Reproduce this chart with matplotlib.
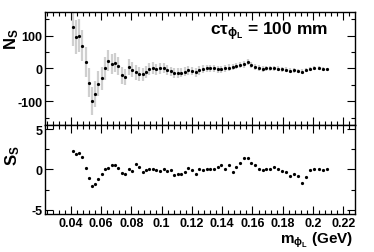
import matplotlib
matplotlib.use("Agg")
import matplotlib.pyplot as plt
from matplotlib.ticker import MultipleLocator

plt.rcParams['font.family'] = ['Liberation Sans', 'DejaVu Sans']
plt.rcParams['font.weight'] = 'bold'
plt.rcParams['axes.unicode_minus'] = False
plt.rcParams['mathtext.fontset'] = 'custom'
plt.rcParams['mathtext.rm'] = 'Liberation Sans:bold'
plt.rcParams['mathtext.it'] = 'Liberation Sans:bold'
plt.rcParams['mathtext.bf'] = 'Liberation Sans:bold'

# mass points (GeV)
mass = [0.0415, 0.0433, 0.0455, 0.0475, 0.0497, 0.0517, 0.0539, 0.0559, 0.0580, 0.0603,
        0.0625, 0.0647, 0.0669, 0.0691, 0.0713, 0.0735, 0.0759, 0.0781, 0.0803, 0.0828,
        0.0850, 0.0874, 0.0896, 0.0918, 0.0942, 0.0964, 0.0988, 0.1015, 0.1037, 0.1059,
        0.1083, 0.1105, 0.1127, 0.1154, 0.1175, 0.1200, 0.1224, 0.1248, 0.1273, 0.1297,
        0.1321, 0.1345, 0.1370, 0.1394, 0.1418, 0.1444, 0.1469, 0.1493, 0.1519, 0.1544,
        0.1568, 0.1592, 0.1614, 0.1643, 0.1667, 0.1691, 0.1715, 0.1740, 0.1766, 0.1793,
        0.1819, 0.1846, 0.1874, 0.1902, 0.1929, 0.1955, 0.1982, 0.2008, 0.2037, 0.2064,
        0.2090]

# signal yield N_S
n_sig = [125, 97, 100, 70, 19, -44, -99, -77, -47, -30,
         0, 24, 13, 18, 8, -20, -26, 5, -4, -12,
         -17, -17, -10, -2, 2, -2, 0, 1, -5, -9,
         -13, -14, -13, -10, -6, -8, -12, -6, -2, 0,
         0, 0, -2, -3, 0, 2, 4, 8, 11, 13,
         20, 12, 5, 1, -1, 0, 0, 1, -1, -3,
         -4, -7, -6, -8, -10, -5, -1, 2, 1, -1,
         -3]

n_err = [55, 52, 50, 48, 46, 44, 42, 40, 38, 36,
         34, 32, 30, 28, 27, 26, 25, 24, 23, 22,
         21, 20, 19, 18, 18, 17, 17, 16, 16, 15,
         15, 15, 14, 14, 14, 13, 13, 13, 12, 12,
         12, 12, 11, 11, 11, 11, 10, 10, 10, 10,
         10, 9, 9, 9, 9, 8, 8, 8, 8, 8,
         8, 7, 7, 7, 7, 7, 7, 6, 6, 6,
         6]

# significance S_S
s_sig = [2.3, 1.9, 2.0, 1.5, 0.15, -1.0, -2.05, -1.8, -1.15, -0.5,
         0.05, 0.2, 0.5, 0.5, 0.15, -0.45, -0.6, 0.05, -0.2, 0.65,
         0.25, -0.25, -0.1, 0.1, 0.05, -0.1, -0.15, 0.1, -0.15, -0.05,
         -0.7, -0.5, -0.5, -0.3, 0.15, -0.1, -0.55, 0.05, -0.05, 0.05,
         0.1, 0.1, 0.3, 0.5, 0.1, 0.6, -0.35, 0.25, 0.85, 1.4,
         1.4, 0.8, 0.55, 0.05, -0.1, 0.1, 0.1, 0.25, 0.1, -0.2,
         -0.3, -0.85, -0.55, -0.8, -1.7, -0.9, -0.1, 0.1, 0.05, -0.05,
         0.0]

fig = plt.figure(figsize=(3.74, 2.53), dpi=100)
ax1 = fig.add_axes([0.1203, 0.502, 0.8289, 0.4466])
ax2 = fig.add_axes([0.1203, 0.1502, 0.8289, 0.3518])

ax1.errorbar(mass, n_sig, yerr=n_err, fmt='o', ms=1.3, color='black',
             ecolor='#cfcfcf', elinewidth=1.6, capsize=0)
ax2.plot(mass, s_sig, 'o', ms=1.3, color='black')

ax1.set_ylim(-172, 172)
ax2.set_ylim(-5.5, 5.5)
for ax in (ax1, ax2):
    ax.set_xlim(0.0228, 0.2278)
    ax.xaxis.set_major_locator(MultipleLocator(0.02))
    ax.xaxis.set_minor_locator(MultipleLocator(0.004))
    ax.tick_params(which='both', direction='in', top=True, right=True,
                   labelsize=9, width=0.8)
    ax.tick_params(which='major', length=6)
    ax.tick_params(which='minor', length=3)
    ax.tick_params(axis='y', pad=2)
    ax.tick_params(axis='x', pad=2)
    for sp in ax.spines.values():
        sp.set_linewidth(1.0)

ax1.yaxis.set_major_locator(MultipleLocator(100))
ax1.yaxis.set_minor_locator(MultipleLocator(50))
ax1.tick_params(labelbottom=False)
ax2.yaxis.set_major_locator(MultipleLocator(5))
ax2.yaxis.set_minor_locator(MultipleLocator(2.5))
ax2.set_xticks([0.04, 0.06, 0.08, 0.1, 0.12, 0.14, 0.16, 0.18, 0.2, 0.22])
ax2.set_xticklabels(['0.04', '0.06', '0.08', '0.1', '0.12', '0.14', '0.16',
                     '0.18', '0.2', '0.22'])

fig.text(0.032, 0.846, r'N$_\mathrm{S}$', rotation=90, fontsize=12,
         ha='center', va='center')
fig.text(0.035, 0.383, r'S$_\mathrm{S}$', rotation=90, fontsize=12,
         ha='center', va='center')
fig.text(0.944, 0.036, r'm$_{\phi_L}$ (GeV)', fontsize=11,
         ha='right', va='baseline')
fig.text(0.561, 0.862, r'c$\tau_{\phi_L}$ = 100 mm', fontsize=12.5,
         ha='left', va='baseline')

fig.savefig('out.png', dpi=100)
